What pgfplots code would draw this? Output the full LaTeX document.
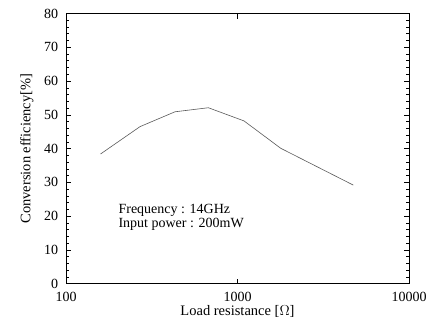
\documentclass[border=0pt]{standalone}
\usepackage{pgfplots}
\pgfplotsset{compat=1.18}
\usepackage{fontspec}
\setmainfont{Liberation Serif}
\begin{document}
\fontsize{14}{16}\selectfont
\begin{tikzpicture}
\begin{axis}[
  scale only axis,
  width=343pt, height=270.2pt,
  xmode=log, log basis x=10,
  xmin=100, xmax=10000, ymin=0, ymax=80,
  xtick={100,1000,10000},
  xticklabels={100,1000,10000},
  ytick={0,10,...,80},
  minor y tick num=4,
  tick align=inside,
  major tick length=5pt, minor tick length=3pt,
  tick style={black, line width=0.6pt},
  axis line style={line width=0.8pt},
  /pgf/number format/assume math mode=true,
  tick label style={font=\fontsize{14}{16}\selectfont},
  yticklabel style={xshift=-3pt},
  xticklabel style={yshift=-4pt},
  label style={font=\fontsize{14.5}{16}\selectfont},
  xlabel={Load resistance [$\Omega$]},
  ylabel={Conversion efficiency[\%]},
  xlabel style={yshift=6pt},
  ylabel style={yshift=1pt},
  clip=false,
]
\addplot[color=black!65, line width=0.6pt] coordinates {
(159,38.4) (270,46.5) (432,50.9) (676,52.1) (1091,48.2) (1786,40.1) (4730,29.2)
};
\node[anchor=base west, inner sep=0pt, font=\fontsize{14}{16}\selectfont] at (axis cs:202,20.85) {Frequency : 14GHz};
\node[anchor=base west, inner sep=0pt, font=\fontsize{14}{16}\selectfont] at (axis cs:202,16.6) {Input power : 200mW};
\end{axis}
\pgfresetboundingbox
\path (-66pt,-39.3pt) rectangle (367pt,283.7pt);
\end{tikzpicture}
\end{document}
